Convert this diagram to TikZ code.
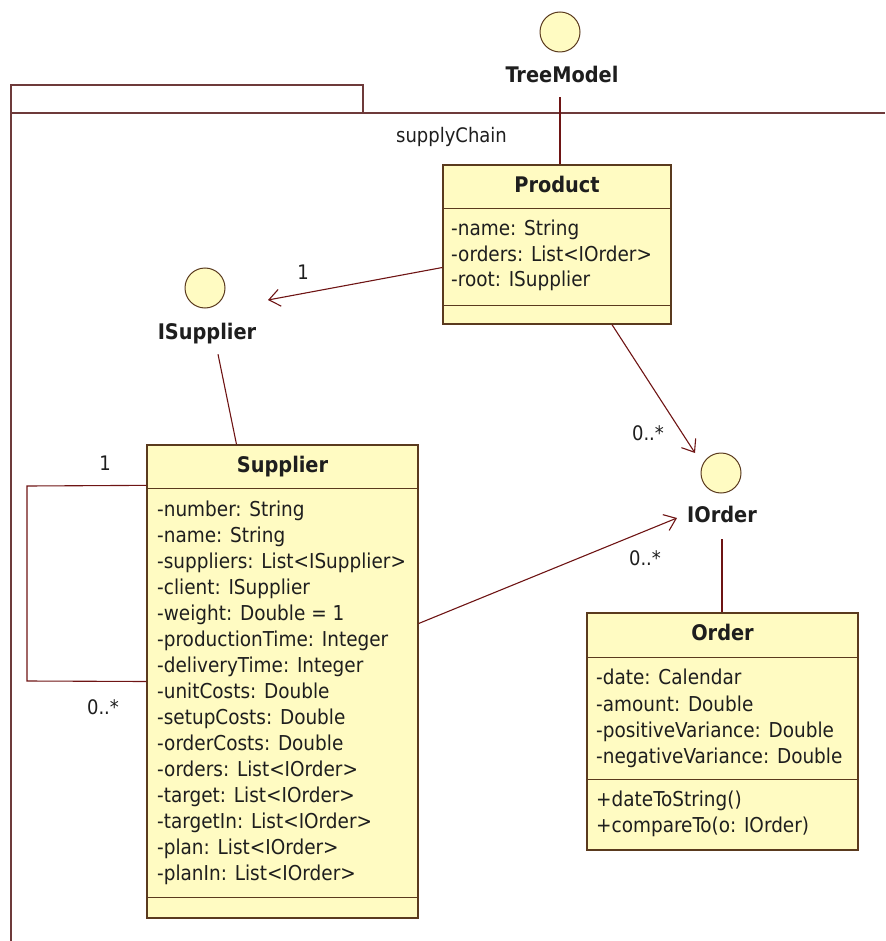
\documentclass[tikz,border=0pt]{standalone}
\usepackage{fontspec}
\setmainfont{DejaVu Sans Condensed}
\usetikzlibrary{arrows.meta}
\definecolor{umlfill}{HTML}{FFFBC2}
\definecolor{umlline}{HTML}{5A3A1E}
\definecolor{assoc}{HTML}{6E1414}
\definecolor{pkgline}{HTML}{6E3A3A}
\definecolor{txt}{HTML}{1E1E1E}
\tikzset{
  classbox/.style={draw=umlline, fill=umlfill, line width=1.3pt, inner sep=0pt},
  sepline/.style={draw=umlline, line width=1.2pt},
  ifacecircle/.style={circle, draw=umlline, fill=umlfill, line width=1pt, minimum size=40pt, inner sep=0pt},
  attr/.style={anchor=west, inner sep=0pt, yshift=-2.5pt, text height=0.75em, text depth=0.25em, font=\fontsize{20.5}{24}\selectfont, text=txt},
  title/.style={inner sep=0pt, yshift=-3pt, text height=0.75em, text depth=0.25em, font=\fontsize{21.5}{24}\selectfont\bfseries, text=txt},
  mult/.style={inner sep=0pt, font=\fontsize{20}{24}\selectfont, text=txt},
  assocline/.style={draw=assoc, line width=1.1pt},
  navarrow/.style={assocline, -{Straight Barb[length=11pt, width=17pt, line width=1.1pt]}},
  pkg/.style={draw=pkgline, line width=1.2pt}
}
\begin{document}
\begin{tikzpicture}[x=1pt, y=-1pt]
\useasboundingbox (0,0) rectangle (885,941);

% package supplyChain (tab, top edge and left edge)
\draw[pkg] (11,113) -- (11,85) -- (363,85) -- (363,113);
\draw[pkg] (885,113) -- (11,113) -- (11,941);
\node[mult, anchor=west] (pkgname) at (396,137) {supplyChain};

% interfaces
\node[ifacecircle] (treemodel) at (560,32) {};
\node[title] (treemodellbl) at (562,77) {TreeModel};
\node[ifacecircle] (isupplier) at (205,288) {};
\node[title] (isupplierlbl) at (207,334) {ISupplier};
\node[ifacecircle] (iorder) at (721,473) {};
\node[title] (iorderlbl) at (722,517) {IOrder};

% class Product
\node[classbox, minimum width=228pt, minimum height=159pt] (product) at (557,244.5) {};
\draw[sepline] ([yshift=-44pt]product.north west) -- ([yshift=-44pt]product.north east);
\draw[sepline] ([yshift=19pt]product.south west) -- ([yshift=19pt]product.south east);
\node[title] (producttitle) at (557,187) {Product};
\node[attr] (p1) at (451,231) {-name: String};
\node[attr] (p2) at (451,256) {-orders: List<IOrder>};
\node[attr] (p3) at (451,281) {-root: ISupplier};

% class Supplier
\node[classbox, minimum width=271pt, minimum height=473pt] (supplier) at (282.5,681.5) {};
\draw[sepline] ([yshift=-44pt]supplier.north west) -- ([yshift=-44pt]supplier.north east);
\draw[sepline] ([yshift=21pt]supplier.south west) -- ([yshift=21pt]supplier.south east);
\node[title] (suppliertitle) at (282.5,467) {Supplier};
\foreach \txt [count=\i] in {-number: String, -name: String, -suppliers: List<ISupplier>,
  -client: ISupplier, -weight: Double = 1, -productionTime: Integer, -deliveryTime: Integer,
  -unitCosts: Double, -setupCosts: Double, -orderCosts: Double, -orders: List<IOrder>,
  -target: List<IOrder>, -targetIn: List<IOrder>, -plan: List<IOrder>, -planIn: List<IOrder>}
  \node[attr] (s\i) at (157, {511 + 26*(\i-1)}) {\txt};

% class Order
\node[classbox, minimum width=271pt, minimum height=237pt] (order) at (722.5,731.5) {};
\draw[sepline] ([yshift=-45pt]order.north west) -- ([yshift=-45pt]order.north east);
\draw[sepline] ([yshift=-167pt]order.north west) -- ([yshift=-167pt]order.north east);
\node[title] (ordertitle) at (722.5,635) {Order};
\node[attr] (o1) at (596,679) {-date: Calendar};
\node[attr] (o2) at (596,706) {-amount: Double};
\node[attr] (o3) at (596,732) {-positiveVariance: Double};
\node[attr] (o4) at (596,758) {-negativeVariance: Double};
\node[attr] (o5) at (596,801) {+dateToString()};
\node[attr] (o6) at (596,827) {+compareTo(o: IOrder)};

% realisations (interface lollipop links)
\coordinate (tmEnd) at ([yshift=-12pt]treemodellbl.south -| treemodel);
\draw[assocline] (tmEnd) -- (tmEnd |- product.north);
\coordinate (isEnd) at ([shift={(11pt,-12pt)}]isupplierlbl.south);
\draw[assocline] (isEnd) -- ([xshift=-46pt]supplier.north);
\coordinate (ioEnd) at ([yshift=-14pt]iorderlbl.south);
\draw[assocline] (ioEnd) -- (ioEnd |- order.north);

% navigable associations
\coordinate (prodA) at ([yshift=-23pt]product.west);
\coordinate (isupTip) at (268,300);
\draw[navarrow] (prodA) -- (isupTip);
\node[mult] (m1) at (303,272) {1};

\coordinate (prodB) at ([xshift=55pt]product.south);
\coordinate (iordTipA) at (695,453);
\draw[navarrow] (prodB) -- (iordTipA);
\node[mult] (m2) at (648,433) {0..*};

\coordinate (supA) at ([yshift=58pt]supplier.east);
\coordinate (iordTipB) at (677,518);
\draw[navarrow] (supA) -- (iordTipB);
\node[mult] (m3) at (645,558) {0..*};

% self association of Supplier
\coordinate (loopTop) at ([yshift=-41pt]supplier.north west);
\coordinate (loopBot) at (supplier.west);
\draw[assocline] (loopTop) -- (27,486) -- (27,681) -- (loopBot);
\node[mult] (m4) at (105,463) {1};
\node[mult] (m5) at (103,707) {0..*};
\end{tikzpicture}
\end{document}
